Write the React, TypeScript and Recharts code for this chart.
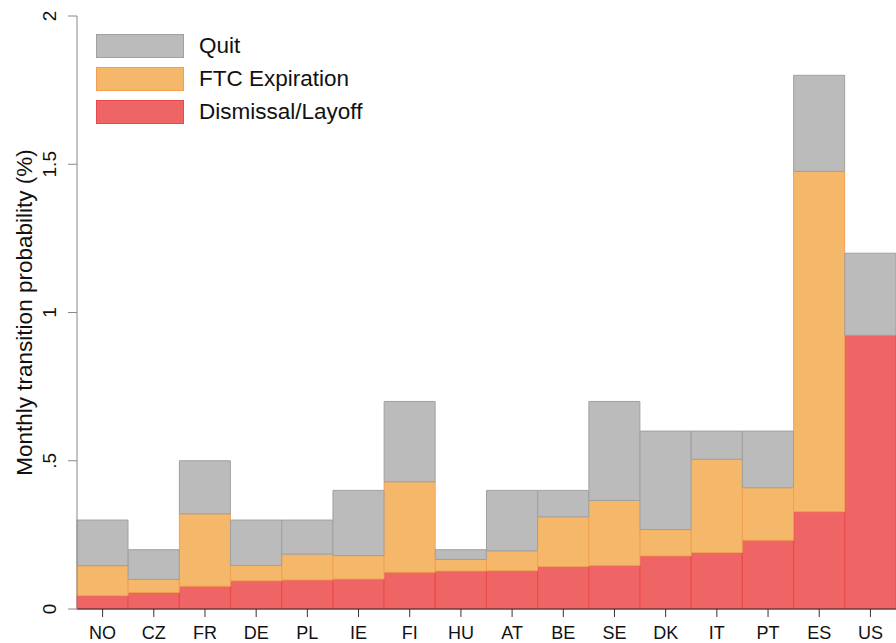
import React from 'react';
import { BarChart, Bar, XAxis, YAxis, Legend } from 'recharts';

const countries = ['NO', 'CZ', 'FR', 'DE', 'PL', 'IE', 'FI', 'HU', 'AT', 'BE', 'SE', 'DK', 'IT', 'PT', 'ES', 'US'];
// cumulative levels: dismissal, dismissal+FTC, total
const dismissal = [0.045, 0.056, 0.077, 0.095, 0.098, 0.101, 0.124, 0.128, 0.129, 0.143, 0.147, 0.179, 0.19, 0.232, 0.328, 0.923];
const ftcTop = [0.146, 0.1, 0.321, 0.147, 0.185, 0.18, 0.429, 0.167, 0.196, 0.311, 0.366, 0.268, 0.505, 0.409, 1.476, 0.923];
const total = [0.3, 0.2, 0.5, 0.3, 0.3, 0.4, 0.7, 0.2, 0.4, 0.4, 0.7, 0.6, 0.6, 0.6, 1.8, 1.2];
const yTicks = [0, 0.5, 1, 1.5, 2];

const FONT = '"Liberation Sans", Arial, Helvetica, sans-serif';

const SERIES = [
  { key: 'quit', name: 'Quit', fill: '#bbbbbb', stroke: '#a0a0a0' },
  { key: 'ftc', name: 'FTC Expiration', fill: '#f5b86a', stroke: '#f0a050' },
  { key: 'dismissal', name: 'Dismissal/Layoff', fill: '#ef6464', stroke: '#e84a4a' },
];

const data = countries.map((c, i) => ({
  country: c,
  dismissal: dismissal[i],
  ftc: +(ftcTop[i] - dismissal[i]).toFixed(3),
  quit: +(total[i] - ftcTop[i]).toFixed(3),
}));

const fmt = (v: number) => (v === 0 ? '0' : v < 1 ? String(v).replace(/^0/, '') : String(v));

const YTick = ({ x, y, payload }: any) => (
  <text
    x={x - 10}
    y={y}
    transform={`rotate(-90, ${x - 10}, ${y})`}
    textAnchor="middle"
    fontFamily={FONT}
    fontSize={19}
    fill="#111"
  >
    {fmt(payload.value)}
  </text>
);

const XTick = ({ x, y, payload }: any) => (
  <text x={x} y={y + 20} textAnchor="middle" fontFamily={FONT} fontSize={18} fill="#111">
    {payload.value}
  </text>
);

const YLabel = ({ viewBox }: any) => {
  const cy = viewBox.y + viewBox.height / 2;
  return (
    <text
      x={32}
      y={cy}
      transform={`rotate(-90, 32, ${cy})`}
      textAnchor="middle"
      fontFamily={FONT}
      fontSize={22.5}
      fill="#111"
    >
      Monthly transition probability (%)
    </text>
  );
};

const LegendBox = () => (
  <div style={{ fontFamily: FONT, fontSize: 22.5, color: '#111' }}>
    {SERIES.map((s) => (
      <div key={s.key} style={{ display: 'flex', alignItems: 'center', height: 24, marginBottom: 9 }}>
        <div
          style={{
            width: 86,
            height: 22,
            background: s.fill,
            border: `1px solid ${s.stroke}`,
            marginRight: 15,
          }}
        />
        <span>{s.name}</span>
      </div>
    ))}
  </div>
);

export default function App() {
  return (
    <div style={{ position: 'absolute', left: 0, top: 0, width: 896, height: 643, overflow: 'hidden', background: '#fff' }}>
      <BarChart
        width={896}
        height={643}
        data={data}
        margin={{ top: 16, right: 0, bottom: 0, left: 0 }}
        barCategoryGap={0}
        barGap={0}
      >
        <XAxis
          dataKey="country"
          height={34}
          tick={<XTick />}
          tickSize={8}
          stroke="#333"
          interval={0}
        />
        <YAxis
          width={77}
          domain={[0, 2]}
          ticks={yTicks}
          tick={<YTick />}
          tickSize={9}
          stroke="#888"
          label={<YLabel />}
        />
        <Legend
          content={<LegendBox />}
          layout="horizontal"
          align="center"
          verticalAlign="middle"
          wrapperStyle={{ top: 34, left: 96, width: 'auto' }}
        />
        <Bar dataKey="dismissal" name="Dismissal/Layoff" stackId="a" fill="#ef6464" stroke="#e84a4a" isAnimationActive={false} />
        <Bar dataKey="ftc" name="FTC Expiration" stackId="a" fill="#f5b86a" stroke="#f0a050" isAnimationActive={false} />
        <Bar dataKey="quit" name="Quit" stackId="a" fill="#bbbbbb" stroke="#a0a0a0" isAnimationActive={false} />
      </BarChart>
    </div>
  );
}
